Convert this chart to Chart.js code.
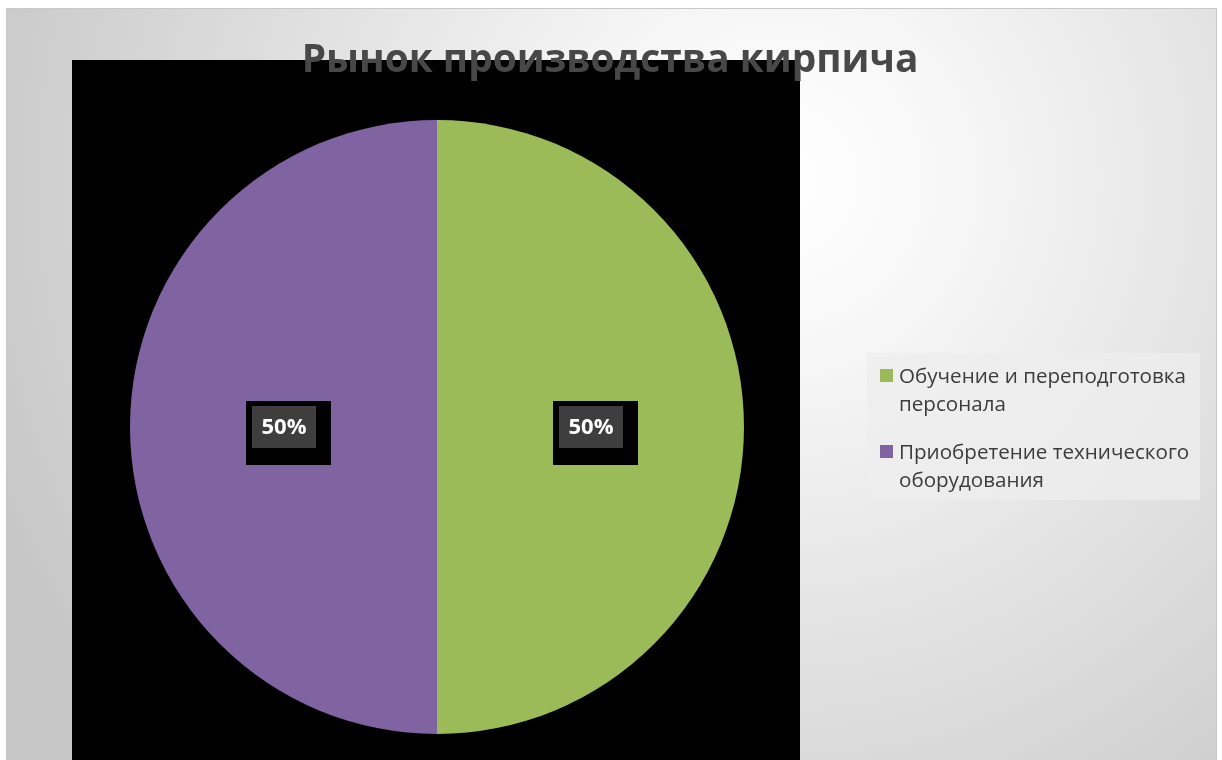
<!DOCTYPE html>
<html>
<head>
<meta charset="utf-8">
<script src="https://cdn.jsdelivr.net/npm/chart.js@4.4.1/dist/chart.umd.min.js"></script>
<style>
  html, body { margin: 0; padding: 0; background: #fff; }
  canvas { display: block; }
</style>
</head>
<body>
<canvas id="pie" width="1222" height="760"></canvas>
<script>
const chartTitle = 'Рынок производства кирпича';
const categories = ['Обучение и переподготовка персонала', 'Приобретение технического оборудования'];
const shares = [50, 50];
const sliceColors = ['#9BBB59', '#8064A2'];

const FONT = '"Open Sans", "DejaVu Sans", sans-serif';

// wrap legend text into lines no wider than maxW
function wrapText(ctx, text, maxW) {
    const words = text.split(' ');
    const lines = [];
    let cur = '';
    words.forEach(w => {
        const test = cur ? cur + ' ' + w : w;
        if (cur && ctx.measureText(test).width > maxW) {
            lines.push(cur);
            cur = w;
        } else {
            cur = test;
        }
    });
    if (cur) lines.push(cur);
    return lines;
}

const decor = {
    id: 'decor',
    beforeDraw(chart) {
        const ctx = chart.ctx;
        ctx.save();
        ctx.fillStyle = '#ffffff';
        ctx.fillRect(0, 0, chart.width, chart.height);
        // radial grey background of the chart area
        const g = ctx.createRadialGradient(780, 180, 0, 780, 180, 860);
        g.addColorStop(0, '#ffffff');
        g.addColorStop(0.2, '#f7f7f7');
        g.addColorStop(1, '#c6c6c6');
        ctx.fillStyle = g;
        ctx.fillRect(6, 8, 1211, 760);
        ctx.strokeStyle = '#c8c8c8';
        ctx.lineWidth = 1;
        ctx.strokeRect(6.5, 8.5, 1210, 760);
        // black plot area
        ctx.fillStyle = '#000000';
        ctx.fillRect(72, 60, 728, 710);
        ctx.restore();
    },
    afterDatasetsDraw(chart) {
        const ctx = chart.ctx;
        const meta = chart.getDatasetMeta(0);
        const total = shares.reduce((a, b) => a + b, 0);
        ctx.save();

        // data labels
        meta.data.forEach((arc, i) => {
            const p = arc.tooltipPosition();
            const x = Math.round(p.x), y = Math.round(p.y);
            ctx.fillStyle = '#000000';
            ctx.fillRect(x - 38, y - 26, 85, 64);
            ctx.fillStyle = '#3e3e3e';
            ctx.fillRect(x - 32, y - 21, 64, 42);
            ctx.fillStyle = '#ffffff';
            ctx.font = 'bold 22px ' + FONT;
            ctx.textAlign = 'center';
            ctx.textBaseline = 'middle';
            ctx.fillText(Math.round(shares[i] / total * 100) + '%', x, y + 1);
        });

        // title
        ctx.font = 'bold 40px ' + FONT;
        const tw = ctx.measureText(chartTitle).width;
        const ts = 40 * 616 / tw;
        ctx.font = 'bold ' + ts.toFixed(1) + 'px ' + FONT;
        ctx.fillStyle = '#484848';
        ctx.textAlign = 'center';
        ctx.textBaseline = 'alphabetic';
        ctx.fillText(chartTitle, 610, 72);

        // legend
        ctx.fillStyle = 'rgba(238,238,238,0.75)';
        ctx.fillRect(867, 353, 333, 147);
        ctx.font = '20px ' + FONT;
        const fw = ctx.measureText('Обучение и переподготовка').width;
        const fs = 20 * 287 / fw;
        ctx.font = fs.toFixed(1) + 'px ' + FONT;
        ctx.textAlign = 'left';
        const itemBase = [383, 459];
        categories.forEach((c, i) => {
            const base = itemBase[i];
            ctx.fillStyle = sliceColors[i];
            ctx.fillRect(880, base - 14, 13, 13);
            ctx.fillStyle = '#3c3c3c';
            wrapText(ctx, c, 295).forEach((ln, k) => {
                ctx.fillText(ln, 899, base + k * 28);
            });
        });
        ctx.restore();
    }
};

new Chart(document.getElementById('pie').getContext('2d'), {
    type: 'pie',
    data: {
        labels: categories,
        datasets: [{
            data: shares,
            backgroundColor: sliceColors,
            borderWidth: 0
        }]
    },
    options: {
        responsive: false,
        animation: false,
        devicePixelRatio: 1,
        layout: {
            padding: { left: 130, right: 478, top: 120, bottom: 26 }
        },
        plugins: {
            legend: { display: false },
            title: { display: false },
            tooltip: { enabled: false }
        }
    },
    plugins: [decor]
});
</script>
</body>
</html>
